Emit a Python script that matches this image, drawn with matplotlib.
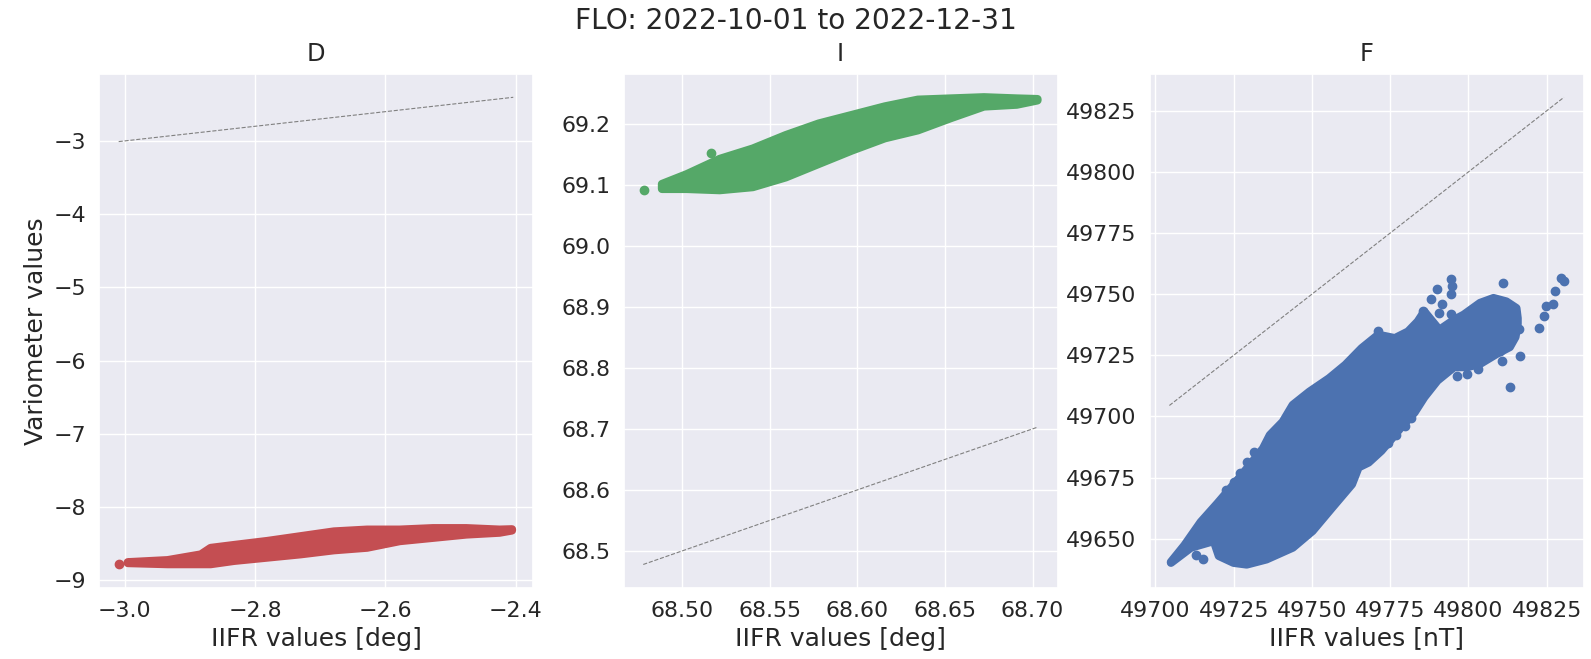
import matplotlib
matplotlib.use("Agg")
import matplotlib.pyplot as plt
import seaborn as sns

sns.set_theme(font_scale=1.45)

title = "FLO: 2022-10-01 to 2022-12-31"
components = ["D", "I", "F"]
units = ["deg", "deg", "nT"]
colors = ["r", "g", "b"]

# 1:1 reference lines (IIFR min / max)
d_line = [-3.009, -2.404]
i_line = [68.478, 68.703]
f_line = [49704.5, 49830.5]

# outline of the D point cloud (marker centres)
d_top_x = [-2.995, -2.934, -2.883, -2.868, -2.832, -2.781, -2.730, -2.679, -2.628, -2.578, -2.527, -2.476, -2.425, -2.406]
d_top_y = [-8.755, -8.727, -8.649, -8.560, -8.520, -8.465, -8.400, -8.335, -8.310, -8.310, -8.290, -8.290, -8.310, -8.305]
d_bot_x = [-2.995, -2.934, -2.883, -2.868, -2.832, -2.781, -2.730, -2.679, -2.628, -2.578, -2.527, -2.476, -2.425, -2.406]
d_bot_y = [-8.765, -8.780, -8.780, -8.780, -8.735, -8.690, -8.645, -8.590, -8.555, -8.465, -8.420, -8.375, -8.350, -8.320]
d_out_x = [-3.009]
d_out_y = [-8.785]

# outline of the I point cloud
i_top_x = [68.4887, 68.5028, 68.5216, 68.5405, 68.5593, 68.5781, 68.5970, 68.6158, 68.6346, 68.6534, 68.6723, 68.6910, 68.7028]
i_top_y = [69.101, 69.117, 69.142, 69.159, 69.181, 69.200, 69.214, 69.228, 69.239, 69.241, 69.243, 69.241, 69.240]
i_bot_x = [68.4887, 68.5028, 68.5216, 68.5405, 68.5593, 68.5781, 68.5970, 68.6158, 68.6346, 68.6534, 68.6723, 68.6910, 68.7028]
i_bot_y = [69.093, 69.093, 69.091, 69.096, 69.112, 69.134, 69.156, 69.176, 69.189, 69.209, 69.228, 69.231, 69.238]
i_out_x = [68.4787, 68.5164]
i_out_y = [69.091, 69.152]

# outline of the F point cloud
f_top_x = [49705.0, 49709.3, 49714.5, 49719.8, 49727.1, 49734.4, 49736.6, 49740.7, 49743.9, 49749.2, 49755.5, 49760.7, 49765.9,
           49771.2, 49776.5, 49780.7, 49783.8, 49785.9, 49790.7, 49795.4, 49798.5, 49803.7, 49808.0, 49812.1, 49815.3, 49815.7]
f_top_y = [49640.5, 49647.3, 49656.8, 49664.4, 49675.3, 49686.9, 49692.4, 49697.8, 49704.7, 49710.1, 49715.6, 49721.1, 49727.9,
           49733.4, 49732.0, 49734.7, 49738.8, 49742.9, 49735.4, 49739.5, 49741.6, 49746.4, 49748.4, 49747.0, 49744.3, 49740.2]
f_bot_x = [49705.0, 49711.4, 49718.7, 49720.3, 49725.0, 49729.2, 49735.5, 49743.9, 49750.2, 49756.5, 49762.8, 49764.9, 49768.1,
           49772.2, 49775.4, 49778.5, 49782.8, 49785.9, 49790.1, 49795.4, 49799.6, 49803.7, 49809.0, 49813.2, 49815.0, 49815.7]
f_bot_y = [49640.2, 49646.4, 49649.1, 49643.0, 49640.2, 49639.5, 49641.6, 49646.4, 49653.2, 49662.8, 49672.3, 49679.2, 49681.2,
           49686.0, 49690.8, 49695.6, 49701.7, 49707.9, 49714.7, 49720.2, 49720.2, 49721.5, 49725.6, 49728.4, 49732.5, 49737.9]
f_out_x = [49794.3, 49794.8, 49794.3, 49790.1, 49788.0, 49791.7, 49790.6, 49794.5, 49785.4, 49788.0, 49810.9, 49829.5, 49830.5,
           49827.7, 49826.9, 49824.7, 49824.2, 49822.6, 49816.3, 49816.5, 49810.6, 49813.2, 49803.2, 49799.6, 49796.4, 49810.0,
           49812.1, 49771.2, 49712.9, 49715.2, 49722.7, 49725.0, 49727.1, 49729.2, 49731.5, 49774.4, 49777.0, 49779.6, 49781.7]
f_out_y = [49756.1, 49753.4, 49750.0, 49752.0, 49747.9, 49746.1, 49742.5, 49741.8, 49743.2, 49737.0, 49754.5, 49756.8, 49755.2,
           49751.4, 49745.9, 49745.2, 49741.1, 49736.3, 49735.7, 49724.7, 49722.7, 49712.0, 49719.3, 49717.2, 49716.5, 49726.8,
           49730.9, 49735.0, 49643.4, 49641.8, 49669.8, 49673.1, 49676.9, 49681.3, 49685.5, 49689.2, 49692.6, 49696.0, 49699.4]

panels = [
    (d_line, d_top_x, d_top_y, d_bot_x, d_bot_y, d_out_x, d_out_y),
    (i_line, i_top_x, i_top_y, i_bot_x, i_bot_y, i_out_x, i_out_y),
    (f_line, f_top_x, f_top_y, f_bot_x, f_bot_y, f_out_x, f_out_y),
]

fig = plt.figure(figsize=(15.91, 6.59), dpi=100)
lefts = [0.0622, 0.3919, 0.7226]

for k, (line, tx, ty, bx, by, ox, oy) in enumerate(panels):
    ax = fig.add_axes([lefts[k], 0.108, 0.2728, 0.7798])
    # dense scatter cloud drawn as its outline, stroked with the marker width
    ax.fill(tx + bx[::-1], ty + by[::-1], color=colors[k], lw=6, joinstyle="round")
    ax.scatter(ox, oy, color=colors[k])
    ax.plot(line, line, color="gray", linestyle="--", linewidth=0.8)
    ax.ticklabel_format(useOffset=False)
    ax.set_title(components[k], pad=9)
    ax.set_xlabel(f"IIFR values [{units[k]}]", fontsize=18)
    if k == 0:
        ax.set_ylabel("Variometer values", fontsize=18)

fig.suptitle(title, y=0.99, fontsize=20.2)
fig.savefig("out.png", dpi=100)
